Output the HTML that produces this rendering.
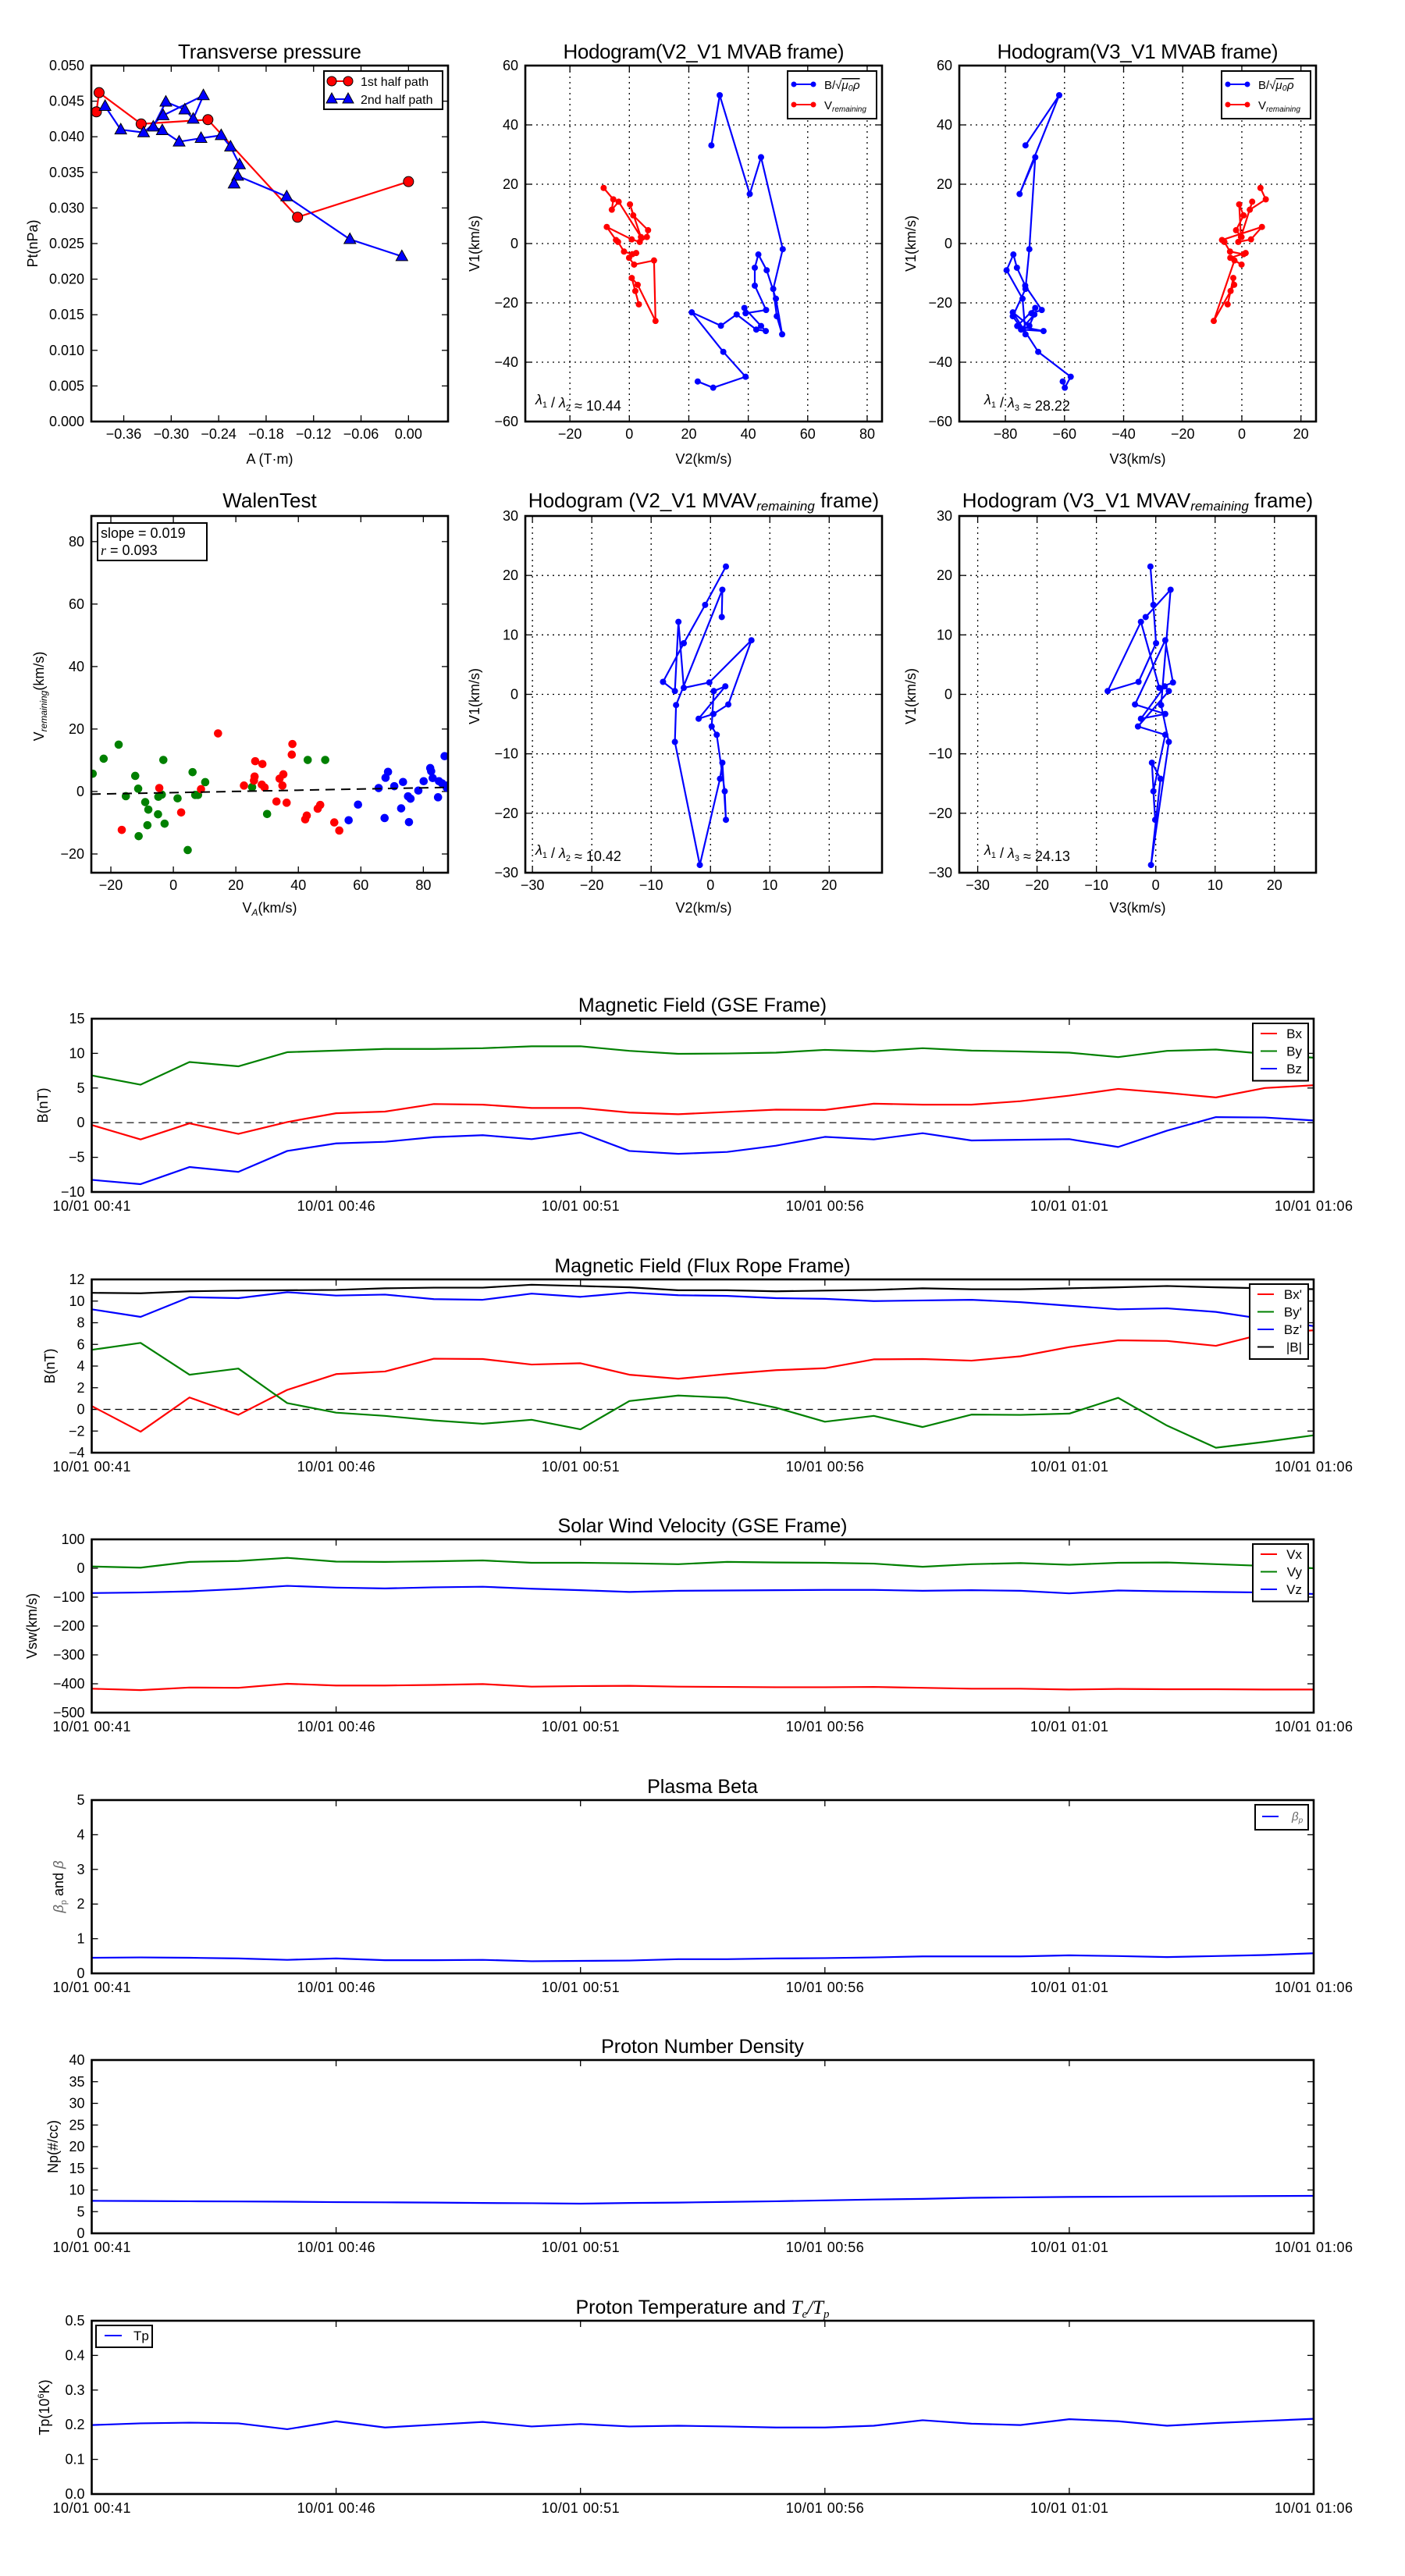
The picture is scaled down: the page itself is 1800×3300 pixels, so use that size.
<!DOCTYPE html>
<html><head><meta charset="utf-8"><style>
html,body{margin:0;padding:0;background:#fff;}
svg{display:block;font-family:"Liberation Sans",sans-serif;}
</style></head><body>
<svg id="fig" xmlns="http://www.w3.org/2000/svg" width="1800" height="3300" viewBox="0 0 1800 3300"></svg>
<script>
// ---------- data ----------
const tpRedA=[-0.3946,-0.3912,-0.338,-0.2536,-0.1403,0];
const tpRedP=[0.0435,0.0462,0.0418,0.0424,0.0287,0.0337];
const tpBlueA=[-0.0084,-0.0741,-0.154,-0.216,-0.2205,-0.2136,-0.225,-0.2368,-0.2623,-0.29,-0.3113,-0.3227,-0.3068,-0.2828,-0.2722,-0.2593,-0.3102,-0.3349,-0.3638,-0.3836];
const tpBlueP=[0.0232,0.0256,0.0316,0.0345,0.0334,0.0361,0.0386,0.0402,0.0398,0.0393,0.0409,0.0414,0.0449,0.0438,0.0425,0.0458,0.043,0.0406,0.041,0.0443];

const hBV2=[27.6,30.4,40.5,44.3,51.6,48.4,49.6,51.4,49.3,46.2,43.4,42.2,42.2,46.0,39.1,38.7,44.3,45.9,42.7,36.1,30.8,21.0,31.6,39.1,28.2,23.0];
const hBV1=[33.1,50.0,16.7,29.1,-1.9,-15.3,-24.5,-30.6,-18.6,-9.0,-3.7,-8.15,-14.2,-22.4,-23.5,-21.7,-27.8,-29.5,-29.0,-23.9,-27.7,-23.2,-36.5,-44.9,-48.6,-46.5];
const hBV3=[-73.2,-61.8,-75.2,-69.9,-71.9,-73.2,-77.5,-73.2,-74.2,-79.6,-77.3,-76.1,-73.3,-67.7,-71.2,-69.9,-76.0,-67.1,-74.7,-70.2,-71.9,-77.5,-68.9,-57.9,-59.9,-60.6];
const hRV2=[-8.65,-5.4,-5.9,-3.6,3.9,0.2,1.3,6.3,5.9,3.5,0.8,-7.6,-4.5,-3.8,-1.8,1.0,2.3,-0.1,1.6,8.3,8.8,2.8,0.8,2.0,3.2];
const hRV1=[18.75,14.9,11.4,14.1,2.2,13.2,9.5,4.5,2.2,0.55,1.4,5.6,1.2,0.55,-2.7,-3.6,-3.2,-4.8,-7.1,-5.7,-26.1,-13.9,-11.6,-16.0,-20.5];
const hRV3=[6.3,8.1,2.7,3.5,-0.3,-0.9,0.6,-1.95,-0.1,-1.2,3.1,6.8,-6.7,-5.9,-4.0,0.6,1.3,-3.9,-0.1,-2.5,-9.5,-2.6,-2.9,-3.8,-4.8];

const mvV2=[1.9,2.0,-5.8,-6.0,-1.8,1.6,2.0,2.6,2.4,1.05,0.2,0.55,2.5,-2.0,0.5,3.0,6.9,-0.2,-4.5,-5.4,-6.0,-8.0,-4.5,-0.9,2.6];
const mvV1=[13.0,17.6,-1.8,-8.0,-28.7,-14.2,-11.5,-21.1,-16.3,-6.8,-5.4,0.55,1.35,-4.1,-3.3,-1.7,9.1,2.0,1.1,12.2,0.55,2.1,8.6,15.05,21.5];
const mvV3=[-1.7,2.5,0.9,2.2,-0.8,0.8,-0.65,-0.1,-0.4,1.6,-3.0,2.2,1.5,-2.5,1.6,-3.5,1.6,2.9,0.6,-2.5,-8.1,-2.9,0.05,-0.4,-0.9];

const wGreenX=[-25.8,-22.3,-17.5,-12.2,-11.25,-15.2,-11.1,-9.0,-8.3,-8.0,-4.9,-4.8,-3.7,-3.2,-2.8,1.35,4.6,6.15,7.0,7.9,10.2,25.2,30.0,43.0,48.6];
const wGreenY=[5.7,10.5,15.0,5.0,0.9,-1.5,-14.3,-3.4,-10.8,-5.8,-7.3,-1.7,-1.0,10.1,-10.3,-2.2,-18.75,6.2,-1.1,-1.1,3.0,1.4,-7.2,10.1,10.1];
const wRedX=[-16.5,-4.5,2.5,8.85,14.3,22.6,25.8,26.0,26.2,28.5,28.3,29.2,33.0,34.0,34.9,35.2,36.25,37.9,38.1,42.2,42.7,46.2,47.0,51.5,53.1];
const wRedY=[-12.3,1.1,-6.7,0.75,18.6,1.9,3.5,4.8,9.7,8.8,2.2,1.3,-3.2,4.1,1.9,5.5,-3.6,11.8,15.2,-8.9,-7.7,-5.5,-4.3,-9.9,-12.5];
const wBlueX=[56.1,59.1,65.7,67.6,67.9,68.7,70.7,72.9,73.5,75.1,75.4,75.9,78.4,80.1,82.2,82.5,83.0,84.7,85.0,86.0,86.8,87.5,87.7];
const wBlueY=[-9.2,-4.2,1.1,-8.5,4.4,6.3,1.7,-5.4,3.05,-1.55,-9.8,-2.3,0.3,3.3,7.5,6.5,4.3,-1.85,3.3,2.6,11.3,1.2,1.9];
const wSlope=0.019;
const wIntercept=-0.35;

const tsMinute=[0,1,2,3,4,5,6,7,8,9,10,11,12,13,14,15,16,17,18,19,20,21,22,23,24,25];
const tsTickMinute=[0,5,10,15,20,25];
const tsTickLabel=['10/01 00:41','10/01 00:46','10/01 00:51','10/01 00:56','10/01 01:01','10/01 01:06'];
const gseBx=[-0.34,-2.42,-0.1,-1.62,0.09,1.36,1.6,2.69,2.6,2.12,2.12,1.46,1.22,1.55,1.88,1.84,2.74,2.6,2.6,3.1,3.9,4.87,4.3,3.64,5.0,5.4];
const gseBy=[6.81,5.48,8.75,8.13,10.17,10.4,10.64,10.64,10.74,11.02,11.02,10.36,9.93,9.98,10.1,10.5,10.3,10.74,10.4,10.27,10.1,9.46,10.36,10.55,9.93,9.37];
const gseBz=[-8.25,-8.87,-6.4,-7.1,-4.08,-2.99,-2.76,-2.09,-1.81,-2.38,-1.43,-4.08,-4.5,-4.22,-3.32,-2.05,-2.42,-1.52,-2.57,-2.47,-2.38,-3.51,-1.15,0.8,0.75,0.32];
const frBx=[0.31,-2.06,1.1,-0.5,1.8,3.26,3.5,4.68,4.65,4.14,4.26,3.2,2.83,3.26,3.62,3.8,4.62,4.65,4.5,4.9,5.75,6.38,6.32,5.87,7.0,7.3];
const frBy=[5.5,6.14,3.2,3.77,0.58,-0.3,-0.6,-1.02,-1.33,-0.96,-1.84,0.77,1.28,1.07,0.16,-1.14,-0.6,-1.63,-0.48,-0.51,-0.39,1.07,-1.5,-3.54,-3.0,-2.39];
const frBz=[9.24,8.54,10.36,10.27,10.82,10.51,10.6,10.18,10.12,10.69,10.39,10.79,10.54,10.48,10.27,10.21,10.0,10.06,10.12,9.9,9.57,9.24,9.33,9.0,8.33,7.69];
const frBt=[10.76,10.72,10.9,10.97,11.0,11.03,11.18,11.24,11.24,11.51,11.39,11.27,11.0,11.0,10.9,10.97,11.03,11.18,11.09,11.09,11.18,11.27,11.39,11.27,11.18,11.1];
const vX=[-417,-422,-413,-414,-400,-406,-406,-404,-401,-410,-408,-407,-410,-411,-412,-412,-411,-414,-417,-417,-420,-418,-419,-419,-420,-420];
const vY=[6,2,22,25,36,23,22,24,27,19,19,17,14,22,20,19,16,5,14,18,12,19,20,14,8,0];
const vZ=[-86,-84,-80,-72,-61,-67,-70,-66,-64,-71,-76,-82,-78,-77,-76,-75,-75,-78,-76,-78,-87,-77,-80,-82,-84,-89];
const betaP=[0.45,0.46,0.45,0.43,0.39,0.43,0.38,0.38,0.39,0.35,0.36,0.37,0.41,0.41,0.43,0.44,0.46,0.49,0.49,0.49,0.52,0.5,0.47,0.5,0.53,0.58];
const np=[7.5,7.45,7.4,7.35,7.3,7.2,7.15,7.1,7.0,6.95,6.85,7.0,7.1,7.25,7.4,7.6,7.8,7.95,8.2,8.3,8.4,8.45,8.5,8.55,8.6,8.65];
const tp=[0.199,0.204,0.206,0.204,0.187,0.21,0.192,0.2,0.208,0.195,0.202,0.195,0.197,0.195,0.192,0.192,0.197,0.213,0.203,0.199,0.216,0.21,0.197,0.205,0.211,0.217];

// ---------- helpers ----------
const NS='http://www.w3.org/2000/svg';
const svg=document.getElementById('fig');
function el(tag,attrs,name,parent){
  const e=document.createElementNS(NS,tag);
  for(const k in attrs) e.setAttribute(k,attrs[k]);
  
  
  (parent||svg).appendChild(e);
  return e;
}
function txt(x,y,s,size,anchor,name,extra){
  const a={x:x,y:y,'font-size':size,'text-anchor':anchor||'middle',fill:'#000'};
  if(extra) for(const k in extra) a[k]=extra[k];
  const t=el('text',a,name);
  t.textContent=s;
  return t;
}
function axes(x0,x1,y0,y1,xmin,xmax,ymin,ymax){
  return {x0,x1,y0,y1,sx:v=>x0+(v-xmin)/(xmax-xmin)*(x1-x0),sy:v=>y1-(v-ymin)/(ymax-ymin)*(y1-y0)};
}
function fmt(v,d){let s=v.toFixed(d);if(s.startsWith('-'))s='\u2212'+s.slice(1);if(/^\u2212?0(\.0+)?$/.test(s))s=s.replace('\u2212','');return s;}
function drawTicks(ax,xt,yt,xlab,ylab,opt){
  const L=opt.len||8;
  for(let i=0;i<xt.length;i++){
    const x=ax.sx(xt[i]);
    if(opt.grid) el('line',{x1:x,y1:ax.y0,x2:x,y2:ax.y1,stroke:'#000','stroke-width':1.3,'stroke-dasharray':'2,5'},'x-grid-line');
    el('line',{x1:x,y1:ax.y1,x2:x,y2:ax.y1-L,stroke:'#000','stroke-width':1.3},'x-tick');
    el('line',{x1:x,y1:ax.y0,x2:x,y2:ax.y0+L,stroke:'#000','stroke-width':1.3},'x-tick-top');
    const t=txt(x,ax.y1+opt.xoff,xlab[i],opt.fs,'middle','x-tick-label');
    if(opt.xlen) t.setAttribute('textLength',opt.xlen);
  }
  for(let i=0;i<yt.length;i++){
    const y=ax.sy(yt[i]);
    if(opt.grid) el('line',{x1:ax.x0,y1:y,x2:ax.x1,y2:y,stroke:'#000','stroke-width':1.3,'stroke-dasharray':'2,5'},'y-grid-line');
    el('line',{x1:ax.x0,y1:y,x2:ax.x0+L,y2:y,stroke:'#000','stroke-width':1.3},'y-tick');
    el('line',{x1:ax.x1,y1:y,x2:ax.x1-L,y2:y,stroke:'#000','stroke-width':1.3},'y-tick-right');
    txt(ax.x0-9,y+6,ylab[i],opt.fs,'end','y-tick-label');
  }
}
function frame(ax,name){
  el('rect',{x:ax.x0,y:ax.y0,width:ax.x1-ax.x0,height:ax.y1-ax.y0,fill:'none',stroke:'#000','stroke-width':2.6},name);
}
function clipFor(ax,id){
  const cp=el('clipPath',{id:id},'clip');
  el('rect',{x:ax.x0,y:ax.y0,width:ax.x1-ax.x0,height:ax.y1-ax.y0},'clip-rect',cp);
  return 'url(#'+id+')';
}
function poly(ax,xs,ys,color,name,width,clip){
  let d='';
  for(let i=0;i<xs.length;i++) d+=(i?'L':'M')+ax.sx(xs[i]).toFixed(2)+','+ax.sy(ys[i]).toFixed(2);
  const a={d:d,fill:'none',stroke:color,'stroke-width':width||2.2,'stroke-linejoin':'round'};
  if(clip) a['clip-path']=clip;
  return el('path',a,name);
}
function dots(ax,xs,ys,color,r,name,stroke){
  for(let i=0;i<xs.length;i++){
    const a={cx:ax.sx(xs[i]),cy:ax.sy(ys[i]),r:r,fill:color};
    if(stroke){a.stroke='#000';a['stroke-width']=1;}
    el('circle',a,name);
  }
}
function rng(a,b,s){const o=[];for(let v=a;v<=b+1e-9;v+=s)o.push(+v.toFixed(6));return o;}
function ylabel(x,y,s,size,name){
  const t=txt(x,y,s,size,'middle',name,{transform:'rotate(-90 '+x+' '+y+')'});
  return t;
}

// ---------- Transverse pressure ----------
(function(){
  const ax=axes(117,574,84,540,-0.401,0.050,0,0.05);
  const xt=rng(-0.36,0,0.06), yt=rng(0,0.05,0.005);
  drawTicks(ax,xt,yt,xt.map(v=>fmt(v,2)),yt.map(v=>fmt(v,3)),{fs:18,xoff:22});
  poly(ax,tpRedA,tpRedP,'#f00','first-half-path-line',2.2);
  dots(ax,tpRedA,tpRedP,'#f00',6.5,'first-half-marker',true);
  poly(ax,tpBlueA,tpBlueP,'#00f','second-half-path-line',2.2);
  for(let i=0;i<tpBlueA.length;i++){
    const cx=ax.sx(tpBlueA[i]),cy=ax.sy(tpBlueP[i]);
    el('polygon',{points:(cx)+','+(cy-8)+' '+(cx-7.5)+','+(cy+5.5)+' '+(cx+7.5)+','+(cy+5.5),fill:'#00f',stroke:'#000','stroke-width':1},'second-half-marker');
  }
  frame(ax,'transverse-pressure-axes');
  txt(345.5,75,'Transverse pressure',26,'middle','transverse-pressure-title',{textLength:235});
  txt(345.5,594,'A (T\u00b7m)',18,'middle','x-axis-title');
  ylabel(48,312,'Pt(nPa)',18,'y-axis-title');
  el('rect',{x:415,y:91,width:152,height:49,fill:'#fff',stroke:'#000','stroke-width':2},'legend-box');
  el('line',{x1:425,y1:104,x2:446,y2:104,stroke:'#f00','stroke-width':2},'legend-line');
  el('circle',{cx:425,cy:104,r:6,fill:'#f00',stroke:'#000','stroke-width':1},'legend-marker');
  el('circle',{cx:446,cy:104,r:6,fill:'#f00',stroke:'#000','stroke-width':1},'legend-marker');
  txt(462,110,'1st half path',16,'start','legend-entry');
  el('line',{x1:425,y1:127,x2:446,y2:127,stroke:'#00f','stroke-width':2},'legend-line');
  el('polygon',{points:'425,119 418,132 432,132',fill:'#00f',stroke:'#000','stroke-width':1},'legend-marker');
  el('polygon',{points:'446,119 439,132 453,132',fill:'#00f',stroke:'#000','stroke-width':1},'legend-marker');
  txt(462,133,'2nd half path',16,'start','legend-entry');
})();

function hodoLegend(x,name){
  el('rect',{x:x,y:91,width:114,height:61,fill:'#fff',stroke:'#000','stroke-width':2},name);
  el('line',{x1:x+8,y1:108,x2:x+33,y2:108,stroke:'#00f','stroke-width':2},'legend-line');
  el('circle',{cx:x+8,cy:108,r:3.5,fill:'#00f'},'legend-marker');
  el('circle',{cx:x+33,cy:108,r:3.5,fill:'#00f'},'legend-marker');
  const t1=txt(x+47,114,'B/\u221a',15,'start','legend-entry');
  const s1=document.createElementNS(NS,'tspan');s1.setAttribute('font-style','italic');s1.setAttribute('text-decoration','overline');s1.textContent='\u03bc\u2080\u03c1';t1.appendChild(s1);
  el('line',{x1:x+8,y1:134,x2:x+33,y2:134,stroke:'#f00','stroke-width':2},'legend-line');
  el('circle',{cx:x+8,cy:134,r:3.5,fill:'#f00'},'legend-marker');
  el('circle',{cx:x+33,cy:134,r:3.5,fill:'#f00'},'legend-marker');
  const t2=txt(x+47,140,'V',15,'start','legend-entry');
  const s2=document.createElementNS(NS,'tspan');s2.setAttribute('font-style','italic');s2.setAttribute('font-size','10');s2.setAttribute('dy','3');s2.textContent='remaining';t2.appendChild(s2);
}
function lambdaText(x,y,a,b,val,name){
  const t=txt(x,y,'',18,'start',name);
  const parts=[['\u03bb','italic'],['1','sub'],[' / ',''],['\u03bb','italic'],[b,'sub'],[' \u2248 '+val,'']];
  for(const p of parts){
    const s=document.createElementNS(NS,'tspan');
    if(p[1]==='italic')s.setAttribute('font-style','italic');
    if(p[1]==='sub'){s.setAttribute('font-size','11');s.setAttribute('dy','4');}
    s.textContent=p[0];t.appendChild(s);
    if(p[1]==='sub'){const r=document.createElementNS(NS,'tspan');r.setAttribute('dy','-4');r.textContent='';t.appendChild(r);}
  }
}
function subTitle(x,y,pre,post,name){
  const t=txt(x,y,pre,26,'middle',name);
  const s=document.createElementNS(NS,'tspan');s.setAttribute('font-style','italic');s.setAttribute('font-size','17');s.setAttribute('dy','4');s.textContent='remaining';t.appendChild(s);
  const r=document.createElementNS(NS,'tspan');r.setAttribute('dy','-4');r.textContent=post;t.appendChild(r);
}

// ---------- Hodogram V2_V1 MVAB ----------
(function(){
  const ax=axes(673,1130,84,540,-35,85,-60,60);
  const xt=rng(-20,80,20), yt=rng(-60,60,20);
  drawTicks(ax,xt,yt,xt.map(v=>fmt(v,0)),yt.map(v=>fmt(v,0)),{fs:18,xoff:22,grid:true});
  poly(ax,hBV2,hBV1,'#00f','b-alfven-path',2.2);
  dots(ax,hBV2,hBV1,'#00f',4,'b-alfven-point');
  poly(ax,hRV2,hRV1,'#f00','v-remaining-path',2.2);
  dots(ax,hRV2,hRV1,'#f00',4,'v-remaining-point');
  frame(ax,'hodogram-v2-v1-mvab-axes');
  hodoLegend(1009,'legend-box');
  lambdaText(686,518,'1','2','10.44','eigenvalue-ratio');
  txt(901.5,75,'Hodogram(V2_V1 MVAB frame)',26,'middle','hodogram-v2-v1-mvab-title',{textLength:360});
  txt(901.5,594,'V2(km/s)',18,'middle','x-axis-title');
  ylabel(614,312,'V1(km/s)',18,'y-axis-title');
})();

// ---------- Hodogram V3_V1 MVAB ----------
(function(){
  const ax=axes(1229,1686,84,540,-95.6,25.1,-60,60);
  const xt=rng(-80,20,20), yt=rng(-60,60,20);
  drawTicks(ax,xt,yt,xt.map(v=>fmt(v,0)),yt.map(v=>fmt(v,0)),{fs:18,xoff:22,grid:true});
  poly(ax,hBV3,hBV1,'#00f','b-alfven-path',2.2);
  dots(ax,hBV3,hBV1,'#00f',4,'b-alfven-point');
  poly(ax,hRV3,hRV1,'#f00','v-remaining-path',2.2);
  dots(ax,hRV3,hRV1,'#f00',4,'v-remaining-point');
  frame(ax,'hodogram-v3-v1-mvab-axes');
  hodoLegend(1565,'legend-box');
  lambdaText(1261,518,'1','3','28.22','eigenvalue-ratio');
  txt(1457.5,75,'Hodogram(V3_V1 MVAB frame)',26,'middle','hodogram-v3-v1-mvab-title',{textLength:360});
  txt(1457.5,594,'V3(km/s)',18,'middle','x-axis-title');
  ylabel(1173,312,'V1(km/s)',18,'y-axis-title');
})();

// ---------- Walen test ----------
(function(){
  const ax=axes(117,574,661,1118,-26.25,87.9,-26,88.2);
  const xt=rng(-20,80,20), yt=rng(-20,80,20);
  drawTicks(ax,xt,yt,xt.map(v=>fmt(v,0)),yt.map(v=>fmt(v,0)),{fs:18,xoff:22});
  const clip=clipFor(ax,'walenclip');
  const g=el('g',{'clip-path':clip},'walen-points');
  function wd(xs,ys,c,n){for(let i=0;i<xs.length;i++){el('circle',{cx:ax.sx(xs[i]),cy:ax.sy(ys[i]),r:5.3,fill:c},n,g);}}
  wd(wGreenX,wGreenY,'#008000','walen-point-green');
  wd(wRedX,wRedY,'#f00','walen-point-red');
  wd(wBlueX,wBlueY,'#00f','walen-point-blue');
  const fx=[-26.25,87.9];
  el('line',{x1:ax.sx(fx[0]),y1:ax.sy(wIntercept+wSlope*fx[0]),x2:ax.sx(fx[1]),y2:ax.sy(wIntercept+wSlope*fx[1]),stroke:'#000','stroke-width':2,'stroke-dasharray':'12,8'},'fit-line');
  frame(ax,'walen-test-axes');
  el('rect',{x:125,y:670,width:140,height:48,fill:'#fff',stroke:'#000','stroke-width':2},'stats-box');
  txt(129,689,'slope = 0.019',18,'start','slope-text');
  const t=txt(129,711,'',18,'start','r-text');
  const s=document.createElementNS(NS,'tspan');s.setAttribute('font-style','italic');s.setAttribute('font-family','Liberation Serif, serif');s.textContent='r';t.appendChild(s);
  const s2=document.createElementNS(NS,'tspan');s2.textContent=' = 0.093';t.appendChild(s2);
  txt(345.5,650,'WalenTest',26,'middle','walen-test-title');
  const xl=txt(345.5,1169,'V',18,'middle','x-axis-title');
  const a1=document.createElementNS(NS,'tspan');a1.setAttribute('font-style','italic');a1.setAttribute('font-size','12');a1.setAttribute('dy','4');a1.textContent='A';xl.appendChild(a1);
  const a2=document.createElementNS(NS,'tspan');a2.setAttribute('dy','-4');a2.textContent='(km/s)';xl.appendChild(a2);
  const yl=ylabel(56,892,'V',18,'y-axis-title');
  const b1=document.createElementNS(NS,'tspan');b1.setAttribute('font-style','italic');b1.setAttribute('font-size','12');b1.setAttribute('dy','4');b1.textContent='remaining';yl.appendChild(b1);
  const b2=document.createElementNS(NS,'tspan');b2.setAttribute('dy','-4');b2.textContent='(km/s)';yl.appendChild(b2);
})();

// ---------- Hodogram MVAV ----------
(function(){
  const ax=axes(673,1130,661,1118,-31.2,28.9,-30,30);
  const xt=rng(-30,20,10), yt=rng(-30,30,10);
  drawTicks(ax,xt,yt,xt.map(v=>fmt(v,0)),yt.map(v=>fmt(v,0)),{fs:18,xoff:22,grid:true});
  poly(ax,mvV2,mvV1,'#00f','b-alfven-path',2.2);
  dots(ax,mvV2,mvV1,'#00f',4,'b-alfven-point');
  frame(ax,'hodogram-v2-v1-mvav-axes');
  lambdaText(686,1095,'1','2','10.42','eigenvalue-ratio');
  subTitle(901.5,650,'Hodogram (V2_V1 MVAV',' frame)','hodogram-v2-v1-mvav-title');
  txt(901.5,1169,'V2(km/s)',18,'middle','x-axis-title');
  ylabel(614,892,'V1(km/s)',18,'y-axis-title');
})();
(function(){
  const ax=axes(1229,1686,661,1118,-33.1,27.0,-30,30);
  const xt=rng(-30,20,10), yt=rng(-30,30,10);
  drawTicks(ax,xt,yt,xt.map(v=>fmt(v,0)),yt.map(v=>fmt(v,0)),{fs:18,xoff:22,grid:true});
  poly(ax,mvV3,mvV1,'#00f','b-alfven-path',2.2);
  dots(ax,mvV3,mvV1,'#00f',4,'b-alfven-point');
  frame(ax,'hodogram-v3-v1-mvav-axes');
  lambdaText(1261,1095,'1','3','24.13','eigenvalue-ratio');
  subTitle(1457.5,650,'Hodogram (V3_V1 MVAV',' frame)','hodogram-v3-v1-mvav-title');
  txt(1457.5,1169,'V3(km/s)',18,'middle','x-axis-title');
  ylabel(1173,892,'V1(km/s)',18,'y-axis-title');
})();

// ---------- time series ----------
const TSX0=117.5, TSX1=1683, TSH=222;
function tsPanel(top,ymin,ymax,yt,ydec,ylab,ylabX,title,name){
  const ax=axes(TSX0,TSX1,top,top+TSH,0,25,ymin,ymax);
  drawTicks(ax,tsTickMinute,yt,tsTickLabel,yt.map(v=>fmt(v,ydec)),{fs:18,xoff:24,xlen:100});
  return ax;
}
function tsLegend(x,y,w,labels,colors,name){
  const h=labels.length*22.5+6;
  el('rect',{x:x,y:y,width:w,height:h,fill:'#fff',stroke:'#000','stroke-width':2},name);
  for(let i=0;i<labels.length;i++){
    const yy=y+13+i*22.5;
    el('line',{x1:x+10,y1:yy,x2:x+31,y2:yy,stroke:colors[i],'stroke-width':2},'legend-line');
    txt(x+w-8,yy+6,labels[i],17,'end','legend-entry');
  }
}
function tsTitle(y,s,name){return txt(900,y,s,25,'middle',name);}

(function(){
  const ax=tsPanel(1305,-10,15,rng(-10,15,5),0);
  el('line',{x1:TSX0,y1:ax.sy(0),x2:TSX1,y2:ax.sy(0),stroke:'#000','stroke-width':1.2,'stroke-dasharray':'9,6'},'zero-line');
  poly(ax,tsMinute,gseBx,'#f00','bx-line');
  poly(ax,tsMinute,gseBy,'#008000','by-line');
  poly(ax,tsMinute,gseBz,'#00f','bz-line');
  frame(ax,'magnetic-field-gse-axes');
  tsLegend(1605,1311,71,['Bx','By','Bz'],['#f00','#008000','#00f'],'legend-box');
  tsTitle(1296,'Magnetic Field (GSE Frame)','magnetic-field-gse-title');
  ylabel(61,1416,'B(nT)',18,'y-axis-title');
})();
(function(){
  const ax=tsPanel(1639,-4,12,rng(-4,12,2),0);
  el('line',{x1:TSX0,y1:ax.sy(0),x2:TSX1,y2:ax.sy(0),stroke:'#000','stroke-width':1.2,'stroke-dasharray':'9,6'},'zero-line');
  poly(ax,tsMinute,frBx,'#f00','bx-prime-line');
  poly(ax,tsMinute,frBy,'#008000','by-prime-line');
  poly(ax,tsMinute,frBz,'#00f','bz-prime-line');
  poly(ax,tsMinute,frBt,'#000','b-magnitude-line');
  frame(ax,'magnetic-field-flux-rope-axes');
  tsLegend(1601,1645,75,["Bx'","By'","Bz'",'|B|'],['#f00','#008000','#00f','#000'],'legend-box');
  tsTitle(1630,'Magnetic Field (Flux Rope Frame)','magnetic-field-flux-rope-title');
  ylabel(70,1750,'B(nT)',18,'y-axis-title');
})();
(function(){
  const ax=tsPanel(1972,-500,100,rng(-500,100,100),0);
  poly(ax,tsMinute,vX,'#f00','vx-line');
  poly(ax,tsMinute,vY,'#008000','vy-line');
  poly(ax,tsMinute,vZ,'#00f','vz-line');
  frame(ax,'solar-wind-velocity-axes');
  tsLegend(1605,1978,71,['Vx','Vy','Vz'],['#f00','#008000','#00f'],'legend-box');
  tsTitle(1963,'Solar Wind Velocity (GSE Frame)','solar-wind-velocity-title');
  ylabel(47,2083,'Vsw(km/s)',18,'y-axis-title');
})();
(function(){
  const ax=tsPanel(2306,0,5,rng(0,5,1),0);
  poly(ax,tsMinute,betaP,'#00f','beta-p-line');
  frame(ax,'plasma-beta-axes');
  el('rect',{x:1608,y:2312,width:68,height:32,fill:'#fff',stroke:'#000','stroke-width':2},'legend-box');
  el('line',{x1:1617,y1:2327,x2:1638,y2:2327,stroke:'#00f','stroke-width':2},'legend-line');
  const lt=txt(1655,2332,'\u03b2',15,'start','legend-entry',{'font-style':'italic',fill:'#666'});
  const ls=document.createElementNS(NS,'tspan');ls.setAttribute('font-size','10');ls.setAttribute('dy','3');ls.textContent='p';lt.appendChild(ls);
  tsTitle(2297,'Plasma Beta','plasma-beta-title');
  const yl=ylabel(81,2417,'',18,'y-axis-title');
  const p1=document.createElementNS(NS,'tspan');p1.setAttribute('font-style','italic');p1.setAttribute('fill','#666');p1.textContent='\u03b2';yl.appendChild(p1);
  const p2=document.createElementNS(NS,'tspan');p2.setAttribute('font-size','11');p2.setAttribute('fill','#666');p2.setAttribute('dy','4');p2.textContent='p';yl.appendChild(p2);
  const p3=document.createElementNS(NS,'tspan');p3.setAttribute('dy','-4');p3.textContent=' and ';yl.appendChild(p3);
  const p4=document.createElementNS(NS,'tspan');p4.setAttribute('font-style','italic');p4.setAttribute('fill','#666');p4.textContent='\u03b2';yl.appendChild(p4);
})();
(function(){
  const ax=tsPanel(2639,0,40,rng(0,40,5),0);
  poly(ax,tsMinute,np,'#00f','np-line');
  frame(ax,'proton-density-axes');
  tsTitle(2630,'Proton Number Density','proton-density-title');
  ylabel(74,2750,'Np(#/cc)',18,'y-axis-title');
})();
(function(){
  const ax=tsPanel(2973,0,0.5,rng(0,0.5,0.1),1);
  poly(ax,tsMinute,tp,'#00f','tp-line');
  frame(ax,'proton-temperature-axes');
  el('rect',{x:123,y:2979,width:72,height:28,fill:'#fff',stroke:'#000','stroke-width':2},'legend-box');
  el('line',{x1:134,y1:2992,x2:156,y2:2992,stroke:'#00f','stroke-width':2},'legend-line');
  txt(171,2998,'Tp',17,'start','legend-entry');
  const t=tsTitle(2964,'Proton Temperature and ','proton-temperature-title');
  const add=(s,it,sub)=>{const e=document.createElementNS(NS,'tspan');if(it){e.setAttribute('font-style','italic');e.setAttribute('font-family','Liberation Serif, serif');}if(sub){e.setAttribute('font-size','15');e.setAttribute('dy','5');}else if(sub===false){e.setAttribute('dy','-5');}e.textContent=s;t.appendChild(e);};
  add('T',true);add('e',true,true);add('/',true,false);add('T',true);add('p',true,true);
  const yl=ylabel(63,3084,'Tp(10',18,'y-axis-title');
  const e1=document.createElementNS(NS,'tspan');e1.setAttribute('font-size','11');e1.setAttribute('dy','-7');e1.textContent='6';yl.appendChild(e1);
  const e2=document.createElementNS(NS,'tspan');e2.setAttribute('dy','7');e2.textContent='K)';yl.appendChild(e2);
})();
</script>
</body></html>
